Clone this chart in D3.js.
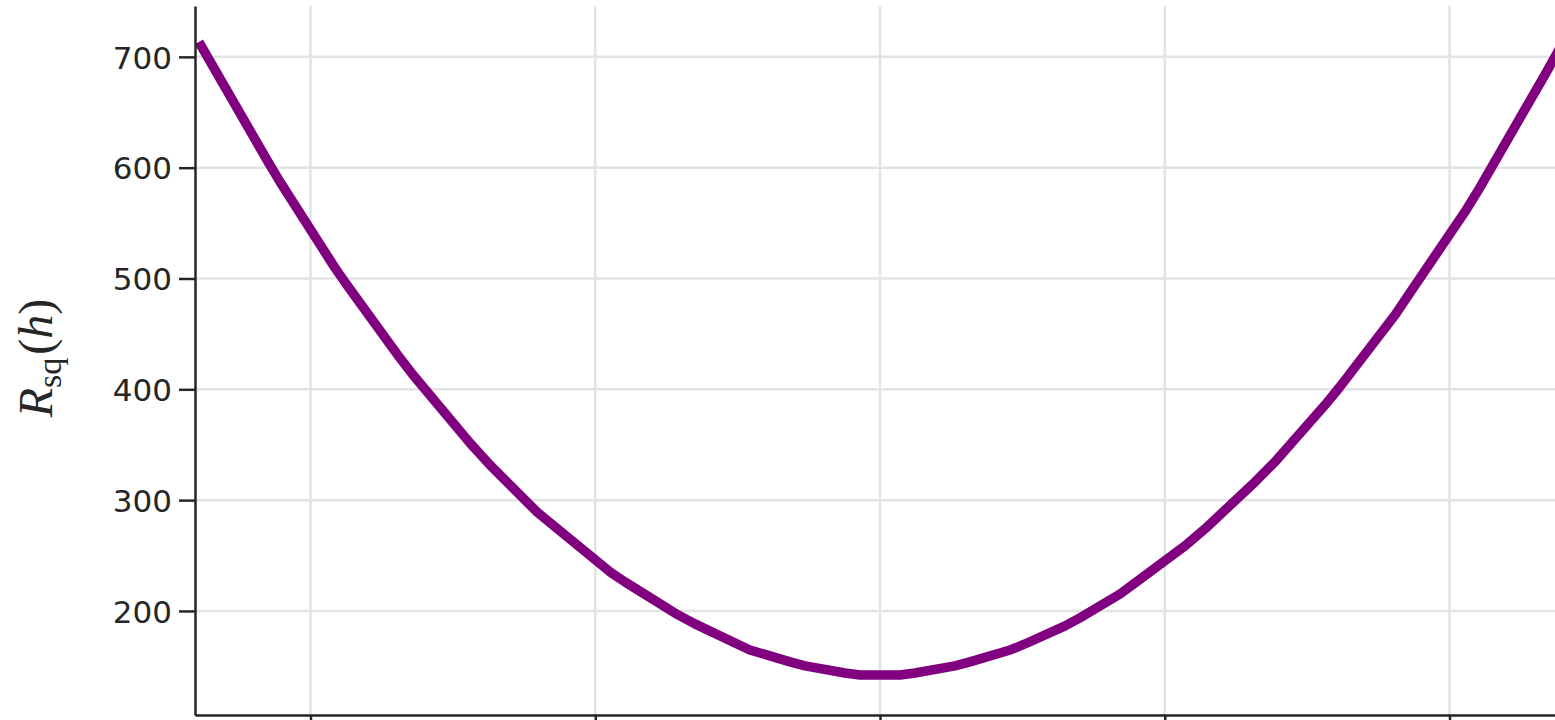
<!DOCTYPE html>
<html>
  <head>
    <meta charset="utf-8">
    <title>R_sq(h)</title>
    <script src="https://d3js.org/d3.v7.min.js"></script>
    <style>
      html, body { margin: 0; padding: 0; background: #fff; overflow: hidden; }
      #chart { display: block; }
      .grid line { stroke: #e3e3e3; stroke-width: 2.5; }
      .axis path, .axis line { stroke: #262626; stroke-width: 2.5; }
      .axis text { font-family: "DejaVu Sans", sans-serif; font-size: 31px; fill: #262626; }
    </style>
  </head>
  <body>
    <svg id="chart" width="1555" height="720"></svg>
    <script>
      // curve samples
      var hValues = [-2.392, -2.149, -2.107, -1.914, -1.872, -1.686, -1.640, -1.440, -1.370, -1.205,
        -1.141, -0.948, -0.896, -0.709, -0.650, -0.509, -0.457, -0.316, -0.263, -0.123,
        -0.070, 0.070, 0.123, 0.263, 0.316, 0.457, 0.509, 0.650, 0.702, 0.843,
        0.896, 1.071, 1.141, 1.317, 1.387, 1.563, 1.615, 1.809, 1.861, 2.054,
        2.100, 2.335, 2.388];
      var rsqValues = [713.5, 605.2, 587.2, 509.6, 494.2, 428.3, 413.0, 351.6, 331.8, 289.4,
        275.8, 235.2, 226.2, 196.4, 188.3, 171.1, 164.8, 154.0, 150.4, 144.0,
        142.2, 142.2, 144.0, 150.4, 154.0, 164.8, 170.2, 186.5, 193.7, 215.3,
        225.3, 258.7, 274.0, 316.4, 334.5, 385.9, 402.2, 467.1, 487.0, 560.1,
        579.1, 683.8, 708.1];
      var xTicks = [-2, -1, 0, 1, 2];
      var yTicks = [200, 300, 400, 500, 600, 700];

      var data = hValues.map(function(h, i) { return { h: h, r: rsqValues[i] }; });

      var chart = d3.select("#chart");
      var margin = { left: 195, top: 6, right: 0, bottom: 5 };
      var width = 1555, height = 720;

      var x = d3.scaleLinear()
        .domain([-2.4056, 2.3705])
        .range([margin.left, width - margin.right]);
      var y = d3.scaleLinear()
        .domain([106.1, 745.9])
        .range([height - margin.bottom, margin.top]);

      // grid
      var grid = chart.append("g").attr("class", "grid");
      grid.selectAll(".gx")
        .data(xTicks)
        .enter().append("line")
          .attr("x1", function(d) { return x(d); })
          .attr("x2", function(d) { return x(d); })
          .attr("y1", margin.top)
          .attr("y2", height - margin.bottom);
      grid.selectAll(".gy")
        .data(yTicks)
        .enter().append("line")
          .attr("x1", margin.left)
          .attr("x2", width - margin.right)
          .attr("y1", function(d) { return y(d); })
          .attr("y2", function(d) { return y(d); });

      // line
      chart.append("defs").append("clipPath").attr("id", "clip")
        .append("rect")
          .attr("x", margin.left)
          .attr("y", margin.top - 10)
          .attr("width", width - margin.left)
          .attr("height", height - margin.top);
      var line = d3.line()
        .x(function(d) { return x(d.h); })
        .y(function(d) { return y(d.r); });
      chart.append("path")
        .datum(data)
        .attr("clip-path", "url(#clip)")
        .attr("fill", "none")
        .attr("stroke", "#800080")
        .attr("stroke-width", 9.5)
        .attr("stroke-linejoin", "round")
        .attr("d", line);

      // axes
      chart.append("g")
        .attr("class", "axis")
        .attr("transform", "translate(" + margin.left + ",0)")
        .call(d3.axisLeft(y).tickValues(yTicks).tickSize(16).tickSizeOuter(0).tickPadding(7))
        .call(function(g) { g.selectAll("text").attr("dy", "0.36em"); });
      // x tick labels fall below the visible area in the reference
      chart.append("g")
        .attr("class", "axis")
        .attr("transform", "translate(0," + (height - margin.bottom) + ")")
        .call(d3.axisBottom(x).tickValues(xTicks).tickSize(16).tickSizeOuter(0).tickFormat(""));

      // y label
      var label = chart.append("text")
        .attr("transform", "translate(52,358) rotate(-90)")
        .attr("text-anchor", "middle")
        .style("font-family", "'Liberation Serif', 'DejaVu Serif', serif")
        .style("fill", "#262626");
      label.append("tspan").style("font-style", "italic").style("font-size", "48px").text("R");
      label.append("tspan").style("font-size", "34px").attr("dy", 9).text("sq");
      label.append("tspan").style("font-size", "48px").attr("dy", -9).attr("dx", 3).text("(");
      label.append("tspan").style("font-style", "italic").style("font-size", "48px").text("h");
      label.append("tspan").style("font-size", "48px").text(")");
    </script>
  </body>
</html>
